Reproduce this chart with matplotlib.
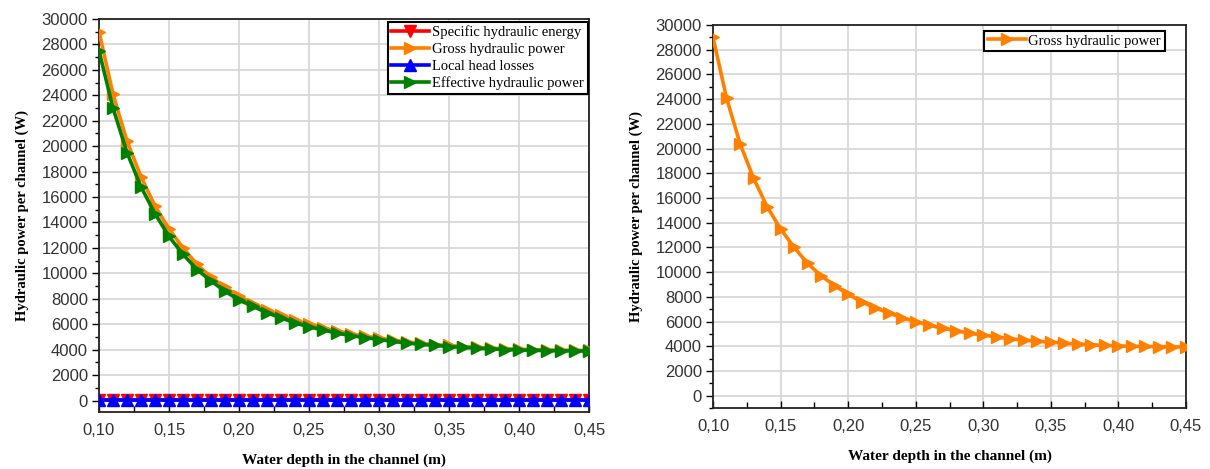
import matplotlib
matplotlib.use("Agg")
import matplotlib.pyplot as plt
from matplotlib.ticker import MultipleLocator, FuncFormatter

depth = [0.10, 0.11, 0.12, 0.13, 0.14, 0.15, 0.16, 0.17, 0.18, 0.19,
         0.20, 0.21, 0.22, 0.23, 0.24, 0.25, 0.26, 0.27, 0.28, 0.29,
         0.30, 0.31, 0.32, 0.33, 0.34, 0.35, 0.36, 0.37, 0.38, 0.39,
         0.40, 0.41, 0.42, 0.43, 0.44, 0.45]

gross_power = [29000, 24100, 20400, 17600, 15300, 13500, 12000, 10700, 9700, 8900,
               8200, 7600, 7100, 6700, 6300, 6000, 5700, 5450, 5250, 5050,
               4900, 4750, 4600, 4500, 4400, 4330, 4250, 4180, 4120, 4070,
               4030, 4000, 3980, 3960, 3950, 3940]

effective_power = [27500, 23000, 19500, 16800, 14700, 12900, 11500, 10300, 9400, 8600,
                   7900, 7400, 6900, 6500, 6100, 5800, 5550, 5300, 5100, 4950,
                   4800, 4650, 4520, 4420, 4330, 4250, 4180, 4120, 4060, 4010,
                   3980, 3950, 3930, 3910, 3900, 3890]

specific_energy = [5, 5, 5, 5, 5, 5, 5, 5, 5, 5,
                   5, 5, 5, 5, 5, 5, 5, 5, 5, 5,
                   5, 5, 5, 5, 5, 5, 5, 5, 5, 5,
                   5, 5, 5, 5, 5, 5]

head_losses = [40, 40, 40, 40, 40, 40, 40, 40, 40, 40,
               40, 40, 40, 40, 40, 40, 40, 40, 40, 40,
               40, 40, 40, 40, 40, 40, 40, 40, 40, 40,
               40, 40, 40, 40, 40, 40]

labels = ["Specific hydraulic energy", "Gross hydraulic power",
          "Local head losses", "Effective hydraulic power"]

RED = "#ff0000"
ORANGE = "#ff8000"
BLUE = "#0000ff"
GREEN = "#008000"

fig = plt.figure(figsize=(12.10, 4.69), dpi=100)

ax1 = fig.add_axes([99/1210, 1-412/469, (589-99)/1210, (412-19)/469])
ax2 = fig.add_axes([713/1210, 1-408/469, (1186-713)/1210, (408-25)/469])

lw = 2.6
ms = 8

ax1.plot(depth, specific_energy, color=RED, marker="v", lw=lw, ms=ms, label=labels[0], zorder=3)
ax1.plot(depth, gross_power, color=ORANGE, marker=">", lw=lw, ms=ms, label=labels[1], zorder=3)
ax1.plot(depth, head_losses, color=BLUE, marker="^", lw=lw, ms=ms, label=labels[2], zorder=3)
ax1.plot(depth, effective_power, color=GREEN, marker=">", lw=lw, ms=ms, label=labels[3], zorder=3)

ax2.plot(depth, gross_power, color=ORANGE, marker=">", lw=lw, ms=ms, label=labels[1], zorder=3)

fmt = FuncFormatter(lambda v, p: f"{v:.2f}".replace(".", ","))

for ax, ybot in ((ax1, -900), (ax2, -1000)):
    ax.set_xlim(0.10, 0.45)
    ax.set_ylim(ybot, 30000)
    ax.xaxis.set_major_locator(MultipleLocator(0.05))
    ax.xaxis.set_minor_locator(MultipleLocator(0.025))
    ax.yaxis.set_major_locator(MultipleLocator(2000))
    ax.yaxis.set_minor_locator(MultipleLocator(1000))
    ax.xaxis.set_major_formatter(fmt)
    ax.grid(True, which="major", color="#d8d8d8", lw=1.3, zorder=0)
    ax.set_axisbelow(True)
    ax.tick_params(axis="x", which="both", direction="in", top=False, pad=8,
                   labelsize=12, labelcolor="#333333")
    ax.tick_params(axis="x", which="major", length=5, width=1)
    ax.tick_params(axis="x", which="minor", length=4, width=1)
    ax.tick_params(axis="y", which="both", direction="out", right=False, pad=3,
                   labelsize=12, labelcolor="#333333")
    ax.tick_params(axis="y", which="major", length=5, width=1)
    ax.tick_params(axis="y", which="minor", length=3, width=1)
    for lab in ax.get_xticklabels() + ax.get_yticklabels():
        lab.set_family("Liberation Sans")
    for s in ax.spines.values():
        s.set_color("#222222")
        s.set_linewidth(1.3)
    ax.set_xlabel("Water depth in the channel (m)", family="Liberation Serif",
                  fontweight="bold", fontsize=11, labelpad=11)
    ax.set_ylabel("Hydraulic power per channel (W)", family="Liberation Serif",
                  fontweight="bold", fontsize=10.5, labelpad=9)

leg1 = ax1.legend(loc="upper right", bbox_to_anchor=(0.997, 0.993), borderaxespad=0,
                  prop={"family": "Liberation Serif", "size": 10.5},
                  handlelength=2.6, handletextpad=0.2, labelspacing=0.25,
                  borderpad=0.25, fancybox=False, framealpha=1, edgecolor="black")
leg1.get_frame().set_linewidth(1.5)

leg2 = ax2.legend(loc="upper right", bbox_to_anchor=(0.955, 0.985), borderaxespad=0,
                  prop={"family": "Liberation Serif", "size": 10.5},
                  handlelength=2.6, handletextpad=0.2, labelspacing=0.25,
                  borderpad=0.25, fancybox=False, framealpha=1, edgecolor="black")
leg2.get_frame().set_linewidth(1.5)

fig.savefig("out.png", dpi=100)
